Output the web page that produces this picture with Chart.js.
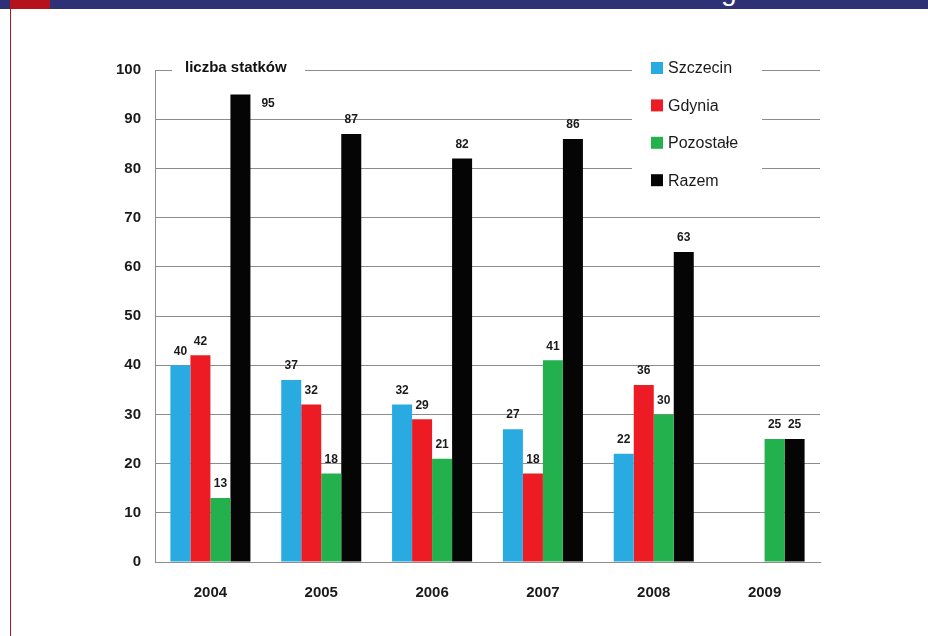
<!DOCTYPE html>
<html lang="pl">
<head>
<meta charset="UTF-8">
<title>Liczba statków</title>
<script src="https://cdn.jsdelivr.net/npm/chart.js"></script>
<style>
    body {
        margin: 0px;
        background: #ffffff;
        font-family: "Liberation Sans", Arial, sans-serif;
    }
    /* strip at the top of the slide */
    .topbar {
        position: absolute; left: 0px; top: 0px;
        width: 928px; height: 9px;
        background: #2e3175;
        overflow: hidden;
    }
    .redblock {
        position: absolute; left: 10px; top: 0px;
        width: 40px; height: 9px;
        background: #b5121b;
    }
    .heading {
        position: absolute; left: 721px; top: -23px;
        color: #ffffff; font-size: 28px; line-height: 28px;
    }
    .redline {
        position: absolute; left: 10px; top: 0px;
        width: 1px; height: 636px;
        background: #b5121b;
    }
    #wrap {
        position: absolute; left: 0px; top: 0px;
        width: 928px; height: 636px;
    }
</style>
</head>
<body>

<div class="topbar">
    <div class="redblock"></div>
    <div class="heading">g</div>
</div>
<div class="redline"></div>

<div id="wrap">
    <canvas id="graph" width="928" height="636"></canvas>
</div>

<script>
    // data
    const years = ["2004", "2005", "2006", "2007", "2008", "2009"];
    const szczecin  = [40, 37, 32, 27, 22, null];
    const gdynia    = [42, 32, 29, 18, 36, null];
    const pozostale = [13, 18, 21, 41, 30, 25];
    const razem     = [95, 87, 82, 86, 63, 25];
    const seriesNames = ["Szczecin", "Gdynia", "Pozostałe", "Razem"];
    const seriesColors = ["#29abe2", "#ed1c24", "#22b14c", "#050505"];
    const axisTitle = "liczba statków";

    const gridColor = "#8c8c8c";

    // numbers above the bars
    const valueLabels = {
        id: 'valueLabels',
        afterDatasetsDraw(chart) {
            const ctx = chart.ctx;
            ctx.save();
            ctx.font = 'bold 12px "Liberation Sans", Arial, sans-serif';
            ctx.fillStyle = '#1a1a1a';
            chart.data.datasets.forEach(function(ds, i) {
                const meta = chart.getDatasetMeta(i);
                meta.data.forEach(function(bar, j) {
                    const v = ds.data[j];
                    if (v === null) return;
                    if (v >= 90) {
                        // no room under the axis title, put it beside the bar
                        ctx.textAlign = 'left';
                        ctx.textBaseline = 'middle';
                        ctx.fillText(v, bar.x + bar.width / 2 + 11, bar.y + 9);
                    } else {
                        ctx.textAlign = 'center';
                        ctx.textBaseline = 'bottom';
                        ctx.fillText(v, bar.x, bar.y - 8);
                    }
                });
            });
            ctx.restore();
        }
    };

    // "liczba statków" sitting on the top grid line
    const axisLabel = {
        id: 'axisLabel',
        afterDraw(chart) {
            const ctx = chart.ctx;
            const area = chart.chartArea;
            ctx.save();
            ctx.fillStyle = '#ffffff';
            ctx.fillRect(area.left + 17, area.top - 12, 133, 22);
            ctx.font = 'bold 15px "Liberation Sans", Arial, sans-serif';
            ctx.fillStyle = '#111111';
            ctx.textAlign = 'left';
            ctx.textBaseline = 'middle';
            ctx.fillText(axisTitle, area.left + 30, area.top - 2);
            ctx.restore();
        }
    };

    // legend drawn in the top right corner of the plot
    const boxLegend = {
        id: 'boxLegend',
        afterDraw(chart) {
            const ctx = chart.ctx;
            const x = 651, y = 68, step = 37.4;
            ctx.save();
            ctx.fillStyle = '#ffffff';
            ctx.fillRect(632, 55, 130, 142);
            ctx.font = '16px "Liberation Sans", Arial, sans-serif';
            ctx.textAlign = 'left';
            ctx.textBaseline = 'middle';
            seriesNames.forEach(function(name, i) {
                ctx.fillStyle = seriesColors[i];
                ctx.fillRect(x, y + i * step - 6, 12, 12);
                ctx.fillStyle = '#1a1a1a';
                ctx.fillText(name, x + 17, y + i * step + 1);
            });
            ctx.restore();
        }
    };

    const datasets = [szczecin, gdynia, pozostale, razem].map(function(values, i) {
        return {
            label: seriesNames[i],
            data: values,
            backgroundColor: seriesColors[i],
            borderWidth: 0,
            barPercentage: 1.0,
            categoryPercentage: 0.722
        };
    });

    const config = {
        type: 'bar',
        data: { labels: years, datasets: datasets },
        options: {
            responsive: false,
            animation: false,
            layout: { padding: { left: 0, right: 108, top: 70, bottom: 0 } },
            plugins: {
                legend: { display: false },
                tooltip: { enabled: false }
            },
            scales: {
                x: {
                    grid: { display: false },
                    border: { color: gridColor },
                    ticks: {
                        color: '#1a1a1a',
                        padding: 14,
                        font: { family: '"Liberation Sans", Arial, sans-serif', size: 15, weight: 'bold' }
                    },
                    afterFit: function(scale) { scale.height = 74; }
                },
                y: {
                    min: 0,
                    max: 100,
                    grid: { color: gridColor, drawTicks: false },
                    border: { color: gridColor },
                    ticks: {
                        stepSize: 10,
                        color: '#1a1a1a',
                        padding: 14,
                        font: { family: '"Liberation Sans", Arial, sans-serif', size: 15, weight: 'bold' }
                    },
                    afterFit: function(scale) { scale.width = 155; }
                }
            }
        },
        plugins: [valueLabels, axisLabel, boxLegend]
    };

    let graph = new Chart(document.getElementById('graph'), config);
</script>
</body>
</html>
